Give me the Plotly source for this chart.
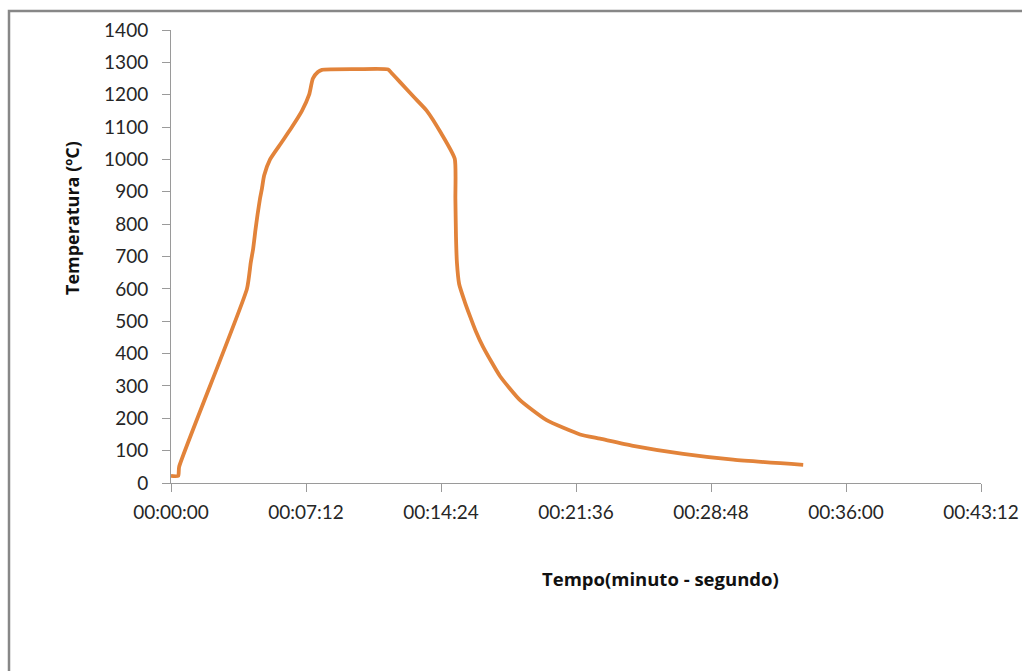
import plotly.graph_objects as go

# Thermal cycle: elapsed time (seconds) and measured temperature (ºC)
tempo_s = [0, 23, 26, 243, 255, 263, 270, 277, 285, 291, 298, 317, 352, 387, 419,
           442, 454, 470, 483, 600, 695, 705, 733, 775, 818, 865, 908,
           910, 912, 915, 922, 940, 957, 975, 999, 1053, 1117, 1202,
           1309, 1373, 1479, 1639, 1799, 2023]
temperatura = [22, 22, 50, 600, 680, 725, 780, 830, 880, 910, 950, 1000, 1050, 1100, 1150,
               1200, 1250, 1270, 1277, 1279, 1278, 1268, 1239, 1195, 1151, 1080, 1002,
               880, 760, 680, 615, 560, 515, 470, 420, 330, 256, 194,
               150, 137, 115, 90, 72, 56]

x_tick_vals = [0, 432, 864, 1296, 1728, 2160, 2592]
x_tick_text = ["00:00:00", "00:07:12", "00:14:24", "00:21:36",
               "00:28:48", "00:36:00", "00:43:12"]
y_tick_vals = list(range(0, 1401, 100))

FONT = "Lato, 'Open Sans', sans-serif"
TITLE_FONT = "'Open Sans', Lato, sans-serif"
AXIS_GREY = "#9a9a9a"

fig = go.Figure()
fig.add_trace(go.Scatter(
    x=tempo_s, y=temperatura, mode="lines",
    line=dict(color="#E2833A", width=3.8, shape="spline", smoothing=0.5),
    showlegend=False, hoverinfo="skip",
))

L, R, T, B = 171, 41, 30, 188
W, H = 1022, 671
pw, ph = W - L - R, H - T - B

def px_x(p):
    return (p - L) / pw

def px_y(p):
    return (H - B - p) / ph

fig.update_layout(
    width=W, height=H,
    margin=dict(l=L, r=R, t=T, b=B, autoexpand=False),
    paper_bgcolor="white", plot_bgcolor="white",
    font=dict(family=FONT, size=19, color="#262626"),
    xaxis=dict(
        range=[0, 2592], tickvals=x_tick_vals, ticktext=x_tick_text,
        automargin=False,
        showgrid=False, zeroline=False, showline=True, linecolor=AXIS_GREY, linewidth=1,
        ticks="outside", ticklen=8, tickcolor=AXIS_GREY, tickwidth=1,
        ticklabelstandoff=4, tickfont=dict(size=19, color="#262626"),
    ),
    yaxis=dict(
        range=[0, 1400], tickvals=y_tick_vals, automargin=False,
        showgrid=False, zeroline=False, showline=True, linecolor=AXIS_GREY, linewidth=1,
        ticks="outside", ticklen=8, tickcolor=AXIS_GREY, tickwidth=1,
        ticklabelstandoff=10, tickfont=dict(size=19, color="#262626"),
    ),
    shapes=[dict(
        type="rect", xref="paper", yref="paper",
        x0=px_x(9), x1=px_x(1040), y0=px_y(700), y1=px_y(11),
        line=dict(color="#878787", width=2.5), fillcolor="rgba(0,0,0,0)", layer="below",
    )],
    annotations=[
        dict(text="<b>Temperatura (ºC)</b>", textangle=-90,
             xref="paper", yref="paper", x=px_x(72), y=px_y(218),
             showarrow=False, font=dict(family=TITLE_FONT, size=18, color="#111"),
             xanchor="center", yanchor="middle"),
        dict(text="<b>Tempo(minuto - segundo)</b>",
             xref="paper", yref="paper", x=px_x(660), y=px_y(578),
             showarrow=False, font=dict(family=TITLE_FONT, size=18.5, color="#111"),
             xanchor="center", yanchor="middle"),
    ],
)

fig.write_html("out.html")
